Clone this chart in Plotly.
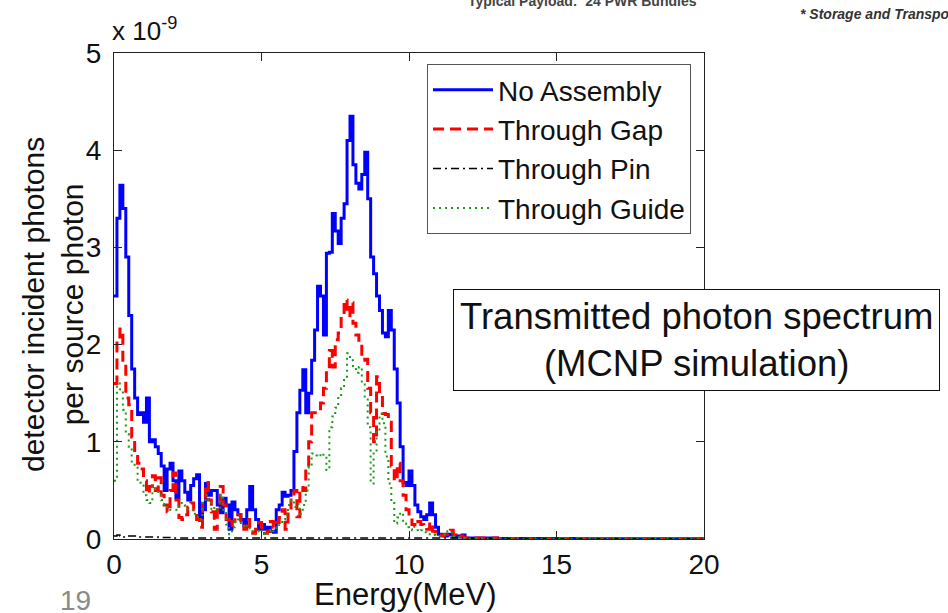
import plotly.graph_objects as go

# Energy bins (MeV), 0.1 MeV steps from 0 to 11.9, plus a sparse tail to 20 MeV
energy = [round(0.1 * i, 1) for i in range(120)]
tail_energy = [12, 13, 14, 15, 16, 17, 18, 19, 20]

# detector incident photons per source photon (x 1e-9)
no_assembly = [
    2.5, 3.3, 3.64, 3.4, 2.9, 2.3, 1.75, 1.45, 1.28, 1.3,
    1.2, 1.45, 1.0, 1.02, 0.95, 0.88, 0.75, 0.5, 0.72, 0.78,
    0.6, 0.42, 0.7, 0.6, 0.48, 0.4, 0.55, 0.62, 0.66, 0.2,
    0.3, 0.57, 0.45, 0.5, 0.5, 0.35, 0.27, 0.42, 0.35, 0.1,
    0.38, 0.3, 0.25, 0.2, 0.14, 0.3, 0.54, 0.3, 0.2, 0.1,
    0.15, 0.1, 0.12, 0.08, 0.07, 0.3, 0.35, 0.48, 0.44, 0.45,
    0.5, 0.9, 1.3, 1.53, 1.74, 1.3, 1.5, 1.84, 2.15, 2.6,
    2.5, 2.1, 2.94, 2.95, 3.35, 3.17, 3.04, 3.3, 3.45, 4.1,
    4.35, 3.85, 3.66, 3.6, 3.75, 3.98, 3.5, 2.9, 2.73, 2.5,
    2.35, 2.12, 2.08, 2.35, 2.15, 1.75, 1.4, 0.95, 0.58, 0.55,
    0.7, 0.55, 0.35, 0.28, 0.23, 0.2, 0.25, 0.37, 0.25, 0.12,
    0.05, 0.04, 0.03, 0.05, 0.04, 0.02, 0.03, 0.02, 0.04, 0.01,
]
through_gap = [
    1.6, 2.05, 2.16, 1.8, 1.45, 1.38, 1.05, 0.88, 0.78, 0.72,
    0.6, 0.47, 0.54, 0.65, 0.5, 0.63, 0.45, 0.35, 0.28, 0.5,
    0.68, 0.4, 0.22, 0.2, 0.25, 0.33, 0.37, 0.3, 0.2, 0.12,
    0.4, 0.58, 0.4, 0.28, 0.1, 0.3, 0.54, 0.35, 0.2, 0.14,
    0.18, 0.22, 0.25, 0.14, 0.1, 0.2, 0.07, 0.06, 0.1, 0.17,
    0.1, 0.06, 0.08, 0.18, 0.12, 0.17, 0.22, 0.3, 0.1, 0.3,
    0.43, 0.5, 0.23, 0.53, 0.5, 0.74, 1.0, 1.3, 1.3, 1.3,
    1.4, 1.55, 1.71, 1.94, 1.77, 2.05, 2.12, 2.3, 2.46, 2.3,
    2.43, 2.22, 2.1, 2.0, 1.84, 1.85, 1.55, 1.3, 1.0, 1.67,
    1.5, 1.29, 1.28, 1.2, 0.75, 0.6, 0.78, 0.6, 0.45, 0.3,
    0.23, 0.15, 0.13, 0.18, 0.15, 0.13, 0.1, 0.17, 0.08, 0.05,
    0.04, 0.03, 0.05, 0.08, 0.09, 0.04, 0.02, 0.03, 0.02, 0.01,
]
through_guide = [
    0.6, 1.6, 1.54, 1.33, 1.08, 0.95, 0.78, 0.75, 0.6, 0.55,
    0.45, 0.4, 0.37, 0.54, 0.5, 0.47, 0.4, 0.36, 0.33, 0.3,
    0.3, 0.3, 0.37, 0.35, 0.33, 0.31, 0.3, 0.26, 0.23, 0.2,
    0.4, 0.45, 0.38, 0.3, 0.33, 0.3, 0.45, 0.3, 0.15, 0.05,
    0.12, 0.18, 0.2, 0.15, 0.12, 0.14, 0.1, 0.05, 0.08, 0.1,
    0.06, 0.04, 0.08, 0.1, 0.08, 0.12, 0.15, 0.2, 0.25, 0.35,
    0.4, 0.33, 0.36, 0.26, 0.35, 0.5, 0.74, 0.88, 0.86, 0.85,
    0.88, 0.85, 0.71, 1.15, 1.26, 1.35, 1.45, 1.55, 1.67, 1.91,
    1.84, 1.78, 1.71, 1.77, 1.6, 1.45, 1.15, 0.57, 0.9, 1.1,
    1.29, 1.19, 0.85, 0.57, 0.37, 0.16, 0.22, 0.27, 0.16, 0.12,
    0.1, 0.09, 0.09, 0.08, 0.09, 0.07, 0.06, 0.05, 0.04, 0.03,
    0.03, 0.04, 0.06, 0.08, 0.07, 0.03, 0.02, 0.02, 0.01, 0.01,
]
tail_no_assembly = [0.01, 0.005, 0.004, 0.004, 0.003, 0.003, 0.002, 0.002, 0.002]
tail_gap = [0.01, 0.004, 0.003, 0.004, 0.003, 0.002, 0.003, 0.002, 0.002]
tail_guide = [0.005, 0.003, 0.003, 0.002, 0.002, 0.002, 0.002, 0.002, 0.001]

pin_energy = [0, 0.1, 0.2, 0.3, 0.5, 0.8, 1.0, 1.5, 2.0, 3.0, 4.0, 5.0, 6.0, 8.0, 10.0, 12.0, 15.0, 20.0]
through_pin = [0.03, 0.04, 0.03, 0.02, 0.03, 0.02, 0.02, 0.015, 0.01, 0.01, 0.01, 0.01, 0.01, 0.01, 0.01, 0.005, 0.003, 0.002]

FONT = "Liberation Sans, Arial, sans-serif"

fig = go.Figure()
fig.add_trace(go.Scatter(x=energy + tail_energy, y=no_assembly + tail_no_assembly, mode="lines",
                         name="No Assembly", line=dict(color="#0000FF", width=3, shape="hv")))
fig.add_trace(go.Scatter(x=energy + tail_energy, y=through_gap + tail_gap, mode="lines",
                         name="Through Gap", line=dict(color="#FF0000", width=3, dash="11px,6px", shape="hv")))
fig.add_trace(go.Scatter(x=pin_energy, y=through_pin, mode="lines",
                         name="Through Pin", line=dict(color="#000000", width=1.5, dash="8px,4px,2px,4px", shape="hv")))
fig.add_trace(go.Scatter(x=energy + tail_energy, y=through_guide + tail_guide, mode="lines",
                         name="Through Guide", line=dict(color="#1a9a1a", width=2, dash="2px,4px", shape="hv")))

L, R, T, B = 114, 704, 53, 539
W, H = 948, 613


def px(xp):
    return (xp - L) / (R - L)


def py(yp):
    return (B - yp) / (B - T)


axis_common = dict(showgrid=False, zeroline=False, showline=True, linecolor="#222", linewidth=1,
                   mirror="ticks", ticks="inside", ticklen=8, tickcolor="#222",
                   tickfont=dict(family=FONT, size=28, color="#111"))

fig.update_layout(
    width=W, height=H,
    margin=dict(l=L, r=W - R, t=T, b=H - B),
    paper_bgcolor="white", plot_bgcolor="white",
    showlegend=True,
    legend=dict(x=px(427), y=py(64), xanchor="left", yanchor="top",
                bgcolor="white", bordercolor="#555", borderwidth=1,
                font=dict(family=FONT, size=28, color="#111"), itemwidth=60,
                tracegroupgap=0),
    xaxis=dict(range=[0, 20], tickvals=[0, 5, 10, 15, 20], **axis_common),
    yaxis=dict(range=[0, 5], tickvals=[0, 1, 2, 3, 4, 5], ticklabelstandoff=6, **axis_common),
)

annotations = [
    dict(text="x 10<sup>-9</sup>", x=px(110), y=py(48), xanchor="left", yanchor="bottom",
         font=dict(family=FONT, size=26, color="#111")),
    dict(text="detector incident photons<br>per source photon", x=px(53), y=py(305),
         xanchor="center", yanchor="middle", textangle=-90,
         font=dict(family=FONT, size=30, color="#111")),
    dict(text="Energy(MeV)", x=px(405), y=py(594), xanchor="center", yanchor="middle",
         font=dict(family=FONT, size=31, color="#111")),
    dict(text="Transmitted photon spectrum<br>(MCNP simulation)", x=px(696), y=py(340),
         xanchor="center", yanchor="middle", bgcolor="white", bordercolor="#111", borderwidth=1,
         borderpad=6, font=dict(family=FONT, size=36.5, color="#111")),
    dict(text="19", x=px(58), y=py(583), xanchor="left", yanchor="top",
         font=dict(family=FONT, size=28, color="#8a8a8a")),
    dict(text="<b>Typical Payload:  24 PWR Bundles</b>", x=px(582), y=py(1), xanchor="center",
         yanchor="middle", font=dict(family=FONT, size=14, color="#444")),
    dict(text="<b><i>* Storage and Transportation Systems</i></b>", x=px(798), y=py(14),
         xanchor="left", yanchor="middle", font=dict(family=FONT, size=14, color="#333")),
]
for a in annotations:
    a.update(xref="paper", yref="paper", showarrow=False)
fig.update_layout(annotations=annotations)

fig.write_html("out.html", config={"displayModeBar": False},
               post_script="document.body.style.margin='0';document.body.style.overflow='hidden';")
